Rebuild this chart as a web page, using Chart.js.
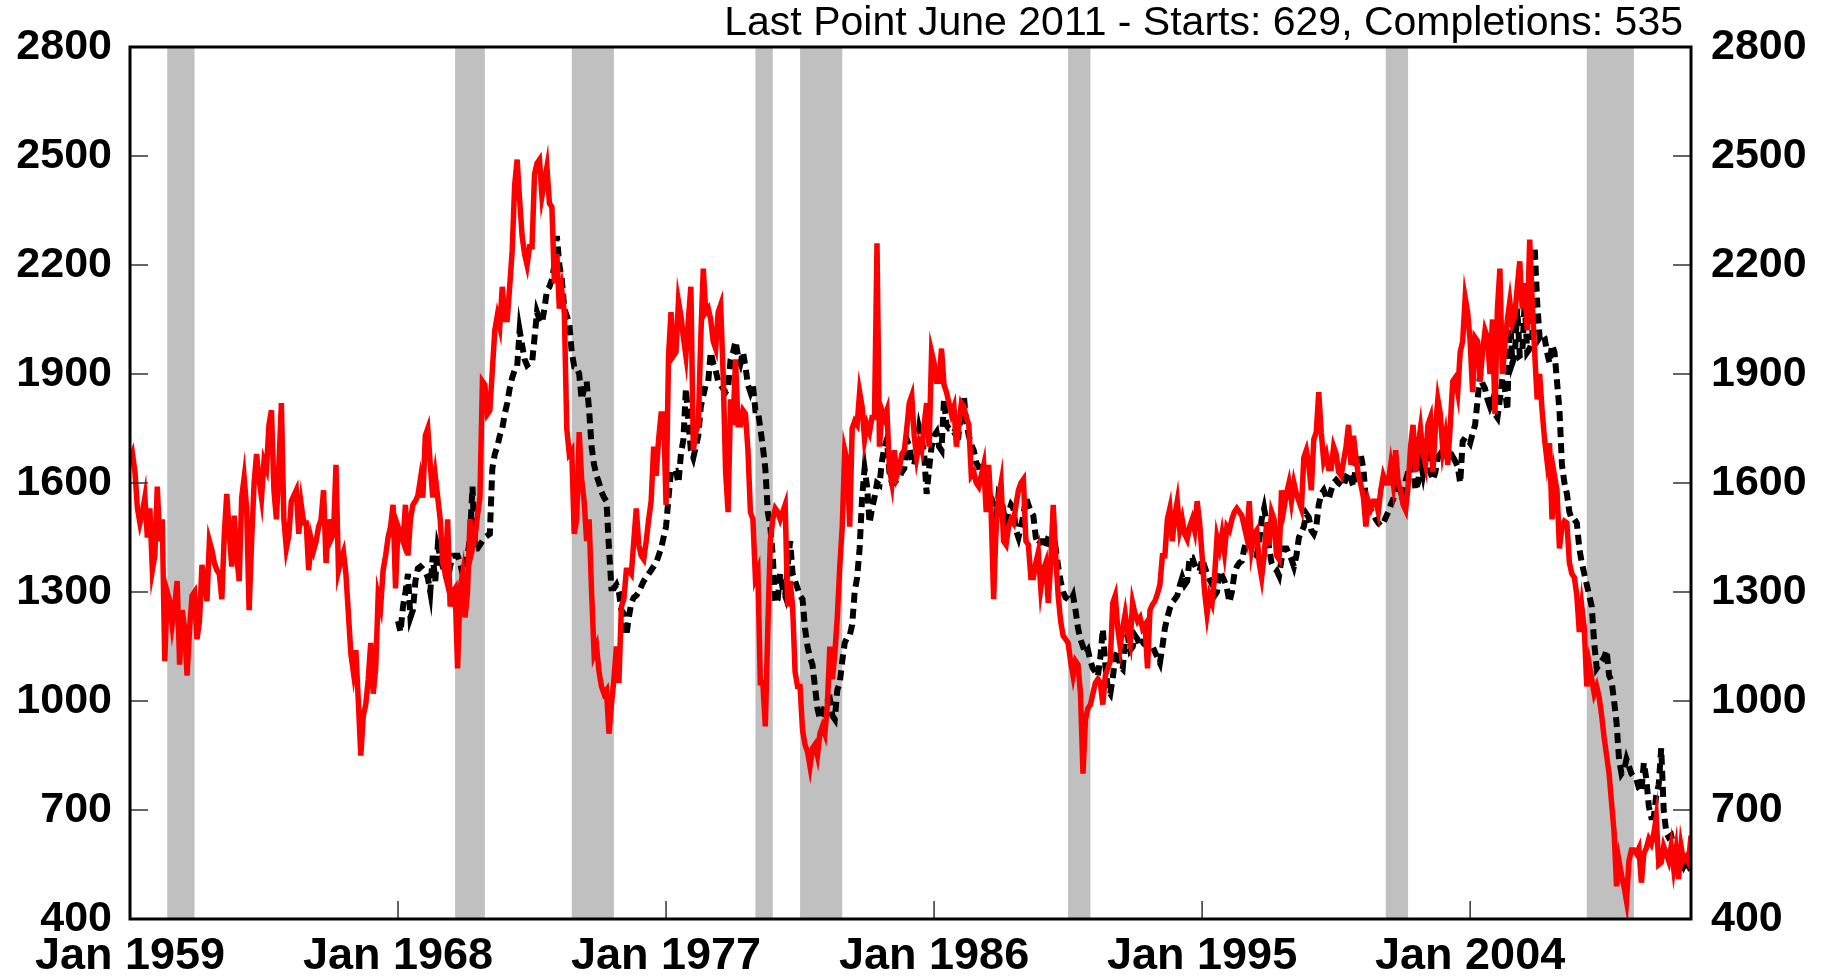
<!DOCTYPE html>
<html lang="en">
<head>
<meta charset="UTF-8">
<title>Housing Starts and Completions</title>
<script src="https://cdn.jsdelivr.net/npm/chart.js"></script>
<style>
  html, body { margin: 0; padding: 0; background: #fff; }
  #wrap { width: 1829px; height: 978px; }
</style>
</head>
<body>
<div id="wrap"><canvas id="housingChart" width="1829" height="978"></canvas></div>
<script>
// monthly, thousands of units SAAR, first value = Jan 1959
const firstYear = 1959;
const startsValues = [
  1660, 1680, 1630, 1530, 1490, 1520, 1560, 1450, 1530, 1360, 1400, 1590, // 1959
  1440, 1500, 1110, 1300, 1275, 1210, 1260, 1330, 1100, 1250, 1200, 1070, // 1960
  1200, 1290, 1300, 1170, 1220, 1375, 1325, 1275, 1440, 1415, 1380, 1360, // 1961
  1350, 1280, 1460, 1570, 1460, 1370, 1510, 1400, 1330, 1560, 1615, 1530, // 1962
  1250, 1440, 1600, 1680, 1610, 1560, 1660, 1640, 1760, 1800, 1580, 1500, // 1963
  1650, 1820, 1500, 1420, 1455, 1550, 1565, 1580, 1460, 1540, 1490, 1490, // 1964
  1360, 1445, 1415, 1440, 1480, 1500, 1580, 1380, 1500, 1445, 1460, 1650, // 1965
  1360, 1390, 1410, 1350, 1240, 1130, 1080, 1140, 1000, 850, 960, 990,    // 1966
  1060, 1160, 1020, 1090, 1290, 1260, 1360, 1400, 1450, 1480, 1540, 1310, // 1967
  1480, 1460, 1440, 1540, 1400, 1500, 1540, 1550, 1565, 1610, 1560, 1730, // 1968
  1750, 1650, 1560, 1620, 1560, 1500, 1380, 1350, 1500, 1260, 1300, 1310, // 1969
  1090, 1310, 1350, 1230, 1300, 1500, 1420, 1450, 1510, 1560, 1880, 1870, // 1970
  1790, 1800, 1910, 2020, 2060, 2030, 2140, 2050, 2050, 2140, 2240, 2420, // 1971
  2490, 2380, 2280, 2230, 2200, 2250, 2250, 2450, 2480, 2490, 2390, 2430, // 1972
  2470, 2370, 2360, 2150, 2230, 2080, 2130, 2070, 1750, 1680, 1690, 1460, // 1973
  1500, 1740, 1610, 1550, 1440, 1500, 1300, 1130, 1150, 1080, 1040, 1020, // 1974
  1030, 910, 990, 1060, 1150, 1050, 1260, 1280, 1360, 1360, 1350, 1440,   // 1975
  1530, 1430, 1400, 1390, 1440, 1500, 1550, 1700, 1620, 1720, 1790, 1790, // 1976
  1540, 1950, 2070, 1950, 1960, 2100, 2060, 2000, 1950, 2050, 2140, 1690, // 1977
  1740, 1760, 2000, 2190, 2070, 2080, 2050, 1990, 1970, 2070, 2090, 1900, // 1978
  1630, 1520, 1830, 1760, 1940, 1760, 1760, 1800, 1790, 1690, 1520, 1500, // 1979
  1340, 1360, 1050, 1050, 930, 1200, 1440, 1500, 1530, 1520, 1500, 1520,  // 1980
  1540, 1260, 1330, 1260, 1080, 1040, 1040, 920, 880, 860, 820, 870,      // 1981
  880, 850, 910, 930, 910, 990, 1150, 1060, 1130, 1230, 1370, 1480,       // 1982
  1690, 1660, 1480, 1750, 1770, 1760, 1850, 1810, 1720, 1760, 1740, 1780, // 1983
  1780, 2260, 1700, 1800, 1780, 1800, 1640, 1600, 1690, 1620, 1640, 1680, // 1984
  1690, 1750, 1820, 1840, 1730, 1670, 1710, 1690, 1760, 1820, 1700, 1960, // 1985
  1930, 1880, 1880, 1970, 1870, 1850, 1820, 1790, 1810, 1700, 1760, 1820, // 1986
  1810, 1780, 1760, 1620, 1630, 1600, 1590, 1620, 1650, 1520, 1650, 1520, // 1987
  1280, 1480, 1560, 1600, 1440, 1430, 1480, 1500, 1490, 1540, 1580, 1600, // 1988
  1610, 1440, 1430, 1340, 1340, 1380, 1410, 1310, 1360, 1380, 1270, 1380, // 1989
  1540, 1400, 1290, 1220, 1180, 1170, 1160, 1110, 1070, 1110, 1100, 1020, // 1990
  800, 950, 980, 990, 1020, 1050, 1060, 1050, 990, 1070, 1090, 1110,      // 1991
  1270, 1290, 1200, 1150, 1200, 1240, 1190, 1160, 1270, 1240, 1220, 1230, // 1992
  1200, 1210, 1090, 1250, 1265, 1275, 1295, 1320, 1400, 1400, 1500, 1530, // 1993
  1440, 1510, 1550, 1470, 1500, 1460, 1445, 1480, 1500, 1470, 1550, 1490, // 1994
  1400, 1300, 1240, 1290, 1270, 1340, 1450, 1420, 1460, 1410, 1480, 1470, // 1995
  1500, 1520, 1530, 1520, 1510, 1480, 1450, 1550, 1420, 1460, 1470, 1380, // 1996
  1340, 1400, 1490, 1430, 1520, 1500, 1400, 1390, 1580, 1530, 1570, 1600, // 1997
  1550, 1600, 1570, 1550, 1530, 1670, 1690, 1650, 1580, 1720, 1740, 1850, // 1998
  1740, 1660, 1680, 1640, 1640, 1700, 1680, 1630, 1620, 1660, 1700, 1760, // 1999
  1650, 1730, 1670, 1620, 1595, 1560, 1480, 1550, 1530, 1550, 1550, 1520, // 2000
  1580, 1620, 1600, 1600, 1650, 1600, 1690, 1600, 1580, 1540, 1525, 1590, // 2001
  1700, 1760, 1630, 1700, 1750, 1680, 1650, 1760, 1780, 1630, 1750, 1830, // 2002
  1790, 1690, 1730, 1650, 1760, 1880, 1890, 1850, 1960, 1990, 2110, 2070, // 2003
  1990, 1850, 2000, 1990, 1880, 1960, 2020, 2000, 1900, 2050, 1790, 2080, // 2004
  2190, 1900, 1980, 2050, 2100, 2040, 2060, 2140, 2210, 2080, 2150, 2020, // 2005
  2270, 2100, 1960, 1830, 1900, 1800, 1720, 1660, 1710, 1500, 1620, 1580, // 2006
  1420, 1480, 1495, 1490, 1380, 1350, 1340, 1290, 1190, 1260, 1200, 1040, // 2007
  1100, 1060, 1020, 1040, 1010, 960, 900, 850, 800, 720, 640, 490,        // 2008
  560, 520, 490, 450, 560, 590, 590, 580, 595, 500, 580, 595,             // 2009
  620, 607, 635, 680, 550, 556, 600, 580, 560, 600, 540, 590,             // 2010
  510, 600, 560, 570, 556, 629                                            // 2011
];

// completions begin Jan 1968 (month 108 after Jan 1959)
const completionsOffset = 108;
const completionsValues = [
  1220, 1190, 1260, 1300, 1350, 1230, 1250, 1330, 1365, 1370, 1363, 1355, // 1968
  1340, 1300, 1400, 1330, 1425, 1400, 1370, 1350, 1330, 1370, 1400, 1400, // 1969
  1400, 1380, 1350, 1370, 1400, 1450, 1590, 1420, 1420, 1430, 1440, 1450, // 1970
  1455, 1460, 1640, 1680, 1700, 1730, 1750, 1790, 1820, 1860, 1890, 1910, // 1971
  1920, 2020, 1980, 1940, 1924, 1930, 1930, 2000, 2070, 2050, 2040, 2080, // 1972
  2130, 2140, 2160, 2200, 2280, 2200, 2160, 2080, 2060, 2040, 1960, 1920, // 1973
  1918, 1900, 1830, 1860, 1880, 1800, 1700, 1650, 1620, 1600, 1575, 1560, // 1974
  1550, 1420, 1310, 1310, 1320, 1300, 1250, 1240, 1180, 1230, 1270, 1285, // 1975
  1290, 1300, 1315, 1330, 1340, 1350, 1360, 1370, 1380, 1400, 1420, 1450, // 1976
  1480, 1560, 1634, 1634, 1634, 1600, 1680, 1720, 1860, 1770, 1690, 1670, // 1977
  1700, 1730, 1810, 1840, 1870, 1880, 1960, 1930, 1910, 1880, 1870, 1860, // 1978
  1850, 1860, 1940, 1960, 1990, 1950, 1930, 1960, 1920, 1870, 1850, 1870, // 1979
  1800, 1800, 1750, 1700, 1640, 1520, 1480, 1400, 1270, 1280, 1350, 1310, // 1980
  1290, 1370, 1440, 1350, 1330, 1310, 1290, 1280, 1200, 1150, 1120, 1100, // 1981
  1040, 980, 950, 970, 985, 1000, 1005, 960, 950, 1030, 1050, 1110,       // 1982
  1160, 1175, 1180, 1210, 1300, 1340, 1420, 1560, 1640, 1590, 1490, 1530, // 1983
  1560, 1600, 1595, 1660, 1700, 1720, 1630, 1600, 1600, 1610, 1615, 1630, // 1984
  1640, 1720, 1700, 1660, 1650, 1690, 1750, 1720, 1680, 1570, 1640, 1700, // 1985
  1730, 1740, 1700, 1690, 1830, 1760, 1750, 1750, 1740, 1750, 1740, 1800, // 1986
  1840, 1765, 1730, 1705, 1690, 1655, 1645, 1620, 1605, 1617, 1575, 1560, // 1987
  1540, 1494, 1570, 1560, 1520, 1494, 1520, 1540, 1530, 1470, 1450, 1480, // 1988
  1510, 1560, 1540, 1520, 1510, 1450, 1430, 1440, 1440, 1420, 1450, 1460, // 1989
  1410, 1420, 1370, 1330, 1300, 1285, 1280, 1275, 1290, 1250, 1200, 1170, // 1990
  1150, 1130, 1140, 1110, 1090, 1080, 1068, 1120, 1198, 1100, 1030, 1020, // 1991
  1063, 1120, 1140, 1095, 1088, 1170, 1180, 1140, 1149, 1180, 1170, 1150, // 1992
  1161, 1155, 1150, 1155, 1150, 1135, 1120, 1105, 1150, 1200, 1230, 1255, // 1993
  1272, 1280, 1290, 1318, 1340, 1320, 1330, 1395, 1395, 1375, 1360, 1358, // 1994
  1390, 1370, 1350, 1334, 1323, 1290, 1300, 1358, 1346, 1330, 1310, 1272, // 1995
  1300, 1350, 1370, 1380, 1385, 1420, 1442, 1440, 1420, 1406, 1400, 1440, // 1996
  1500, 1530, 1490, 1420, 1380, 1365, 1360, 1345, 1390, 1420, 1420, 1405, // 1997
  1390, 1370, 1400, 1450, 1465, 1480, 1515, 1505, 1470, 1460, 1480, 1540, // 1998
  1570, 1580, 1562, 1555, 1580, 1600, 1608, 1600, 1595, 1590, 1617, 1630, // 1999
  1610, 1590, 1654, 1680, 1675, 1640, 1553, 1545, 1525, 1514, 1500, 1490, // 2000
  1482, 1490, 1505, 1520, 1540, 1555, 1585, 1600, 1580, 1550, 1605, 1630, // 2001
  1650, 1645, 1580, 1600, 1660, 1625, 1670, 1690, 1630, 1608, 1630, 1670, // 2002
  1680, 1665, 1690, 1700, 1660, 1672, 1660, 1645, 1600, 1715, 1725, 1720, // 2003
  1710, 1736, 1760, 1828, 1900, 1874, 1860, 1830, 1810, 1828, 1790, 1780, // 2004
  1830, 1890, 1860, 1800, 2070, 1930, 1950, 2080, 1950, 1955, 2100, 1960, // 2005
  1970, 1990, 2250, 2100, 2000, 2010, 2000, 1960, 1930, 1980, 1960, 1880, // 2006
  1800, 1650, 1600, 1570, 1520, 1500, 1500, 1490, 1420, 1380, 1350, 1320, // 2007
  1290, 1260, 1160, 1090, 1100, 1110, 1120, 1140, 1070, 1055, 1000, 940,  // 2008
  840, 800, 810, 840, 820, 800, 790, 785, 760, 750, 830, 785,             // 2009
  710, 680, 680, 740, 770, 870, 700, 640, 625, 630, 600, 590,             // 2010
  570, 560, 545, 560, 545, 535                                            // 2011
];

const xTickYears = [1959, 1968, 1977, 1986, 1995, 2004];
const yMin = 400, yMax = 2800, yStep = 300;

// NBER recessions, first and last month
const recessionStarts = ['1960-04', '1969-12', '1973-11', '1980-01', '1981-07', '1990-07', '2001-03', '2007-12'];
const recessionEnds   = ['1961-02', '1970-11', '1975-03', '1980-07', '1982-11', '1991-03', '2001-11', '2009-06'];

const titleText = 'Last Point June 2011 - Starts: 629, Completions: 535';

// helpers
const monthToX = i => firstYear + i / 12;
const ymToX = (s, endOfMonth) => {
  const [y, m] = s.split('-').map(Number);
  return y + (endOfMonth ? m : m - 1) / 12;
};
const lastX = monthToX(startsValues.length - 1);

const startsData = startsValues.map((v, i) => ({ x: monthToX(i), y: v }));
const completionsData = completionsValues.map((v, i) => ({ x: monthToX(i + completionsOffset), y: v }));

const fontFamily = '"Liberation Sans", Arial, Helvetica, sans-serif';

// grey recession bars behind the lines
const recessionPlugin = {
  id: 'recessions',
  beforeDatasetsDraw(chart) {
    const { ctx, chartArea, scales } = chart;
    ctx.save();
    ctx.fillStyle = '#c0c0c0';
    recessionStarts.forEach((s, k) => {
      const x0 = scales.x.getPixelForValue(ymToX(s, false));
      const x1 = scales.x.getPixelForValue(ymToX(recessionEnds[k], true));
      ctx.fillRect(x0, chartArea.top, x1 - x0, chartArea.bottom - chartArea.top);
    });
    ctx.restore();
  }
};

// frame box plus inward tick marks
const framePlugin = {
  id: 'frame',
  afterDatasetsDraw(chart) {
    const { ctx, chartArea, scales } = chart;
    const len = 18;
    ctx.save();
    ctx.strokeStyle = '#333';
    ctx.lineWidth = 1.5;
    ctx.beginPath();
    scales.y.ticks.forEach(t => {
      const py = scales.y.getPixelForValue(t.value);
      ctx.moveTo(chartArea.left, py);
      ctx.lineTo(chartArea.left + len, py);
      ctx.moveTo(chartArea.right, py);
      ctx.lineTo(chartArea.right - len, py);
    });
    xTickYears.forEach(v => {
      const px = scales.x.getPixelForValue(v);
      ctx.moveTo(px, chartArea.bottom);
      ctx.lineTo(px, chartArea.bottom - len);
    });
    ctx.stroke();
    ctx.strokeStyle = '#000';
    ctx.lineWidth = 3;
    ctx.strokeRect(chartArea.left, chartArea.top, chartArea.right - chartArea.left, chartArea.bottom - chartArea.top);
    ctx.restore();
  },
  afterDraw(chart) {
    const { ctx, chartArea } = chart;
    ctx.save();
    ctx.fillStyle = '#000';
    ctx.font = '41px ' + fontFamily;
    ctx.textAlign = 'right';
    ctx.textBaseline = 'alphabetic';
    ctx.fillText(titleText, chartArea.right - 8, 35);
    ctx.restore();
  }
};

const yTicks = (pad) => ({
  stepSize: yStep,
  padding: pad,
  color: '#000',
  font: { family: fontFamily, size: 43, weight: 'bold' },
  callback: v => String(v)
});

new Chart(document.getElementById('housingChart'), {
  type: 'line',
  data: {
    datasets: [
      {
        label: 'Starts',
        data: startsData,
        borderColor: '#ff0000',
        borderWidth: 5.5,
        pointRadius: 0,
        tension: 0,
        yAxisID: 'y'
      },
      {
        label: 'Completions',
        data: completionsData,
        borderColor: '#000000',
        borderWidth: 6,
        borderDash: [10, 6],
        pointRadius: 0,
        tension: 0,
        yAxisID: 'y'
      }
    ]
  },
  options: {
    responsive: false,
    animation: false,
    devicePixelRatio: 1,
    layout: { padding: { top: 47, left: 0, right: 0, bottom: 0 } },
    plugins: {
      legend: { display: false },
      tooltip: { enabled: false },
      title: { display: false }
    },
    scales: {
      x: {
        type: 'linear',
        min: firstYear,
        max: lastX,
        afterBuildTicks: s => { s.ticks = xTickYears.map(v => ({ value: v })); },
        afterFit: s => { s.height = 59; },
        grid: { display: false, drawTicks: false },
        border: { display: false },
        ticks: {
          autoSkip: false,
          maxRotation: 0,
          padding: 11,
          color: '#000',
          font: { family: fontFamily, size: 45, weight: 'bold' },
          callback: v => 'Jan ' + v
        }
      },
      y: {
        position: 'left',
        min: yMin,
        max: yMax,
        afterFit: s => { s.width = 130; },
        grid: { display: false, drawTicks: false },
        border: { display: false },
        ticks: yTicks(18)
      },
      y2: {
        position: 'right',
        min: yMin,
        max: yMax,
        afterFit: s => { s.width = 138; },
        grid: { display: false, drawTicks: false },
        border: { display: false },
        ticks: yTicks(20)
      }
    }
  },
  plugins: [recessionPlugin, framePlugin]
});
</script>
</body>
</html>
